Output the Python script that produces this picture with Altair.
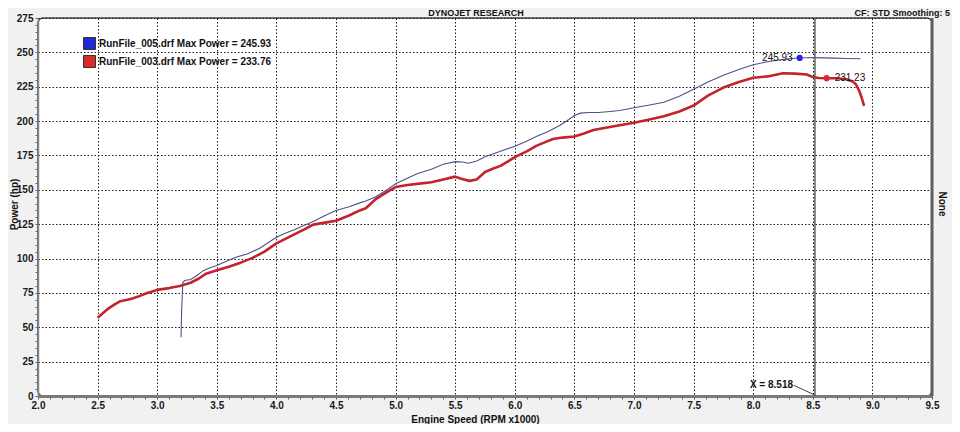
import altair as alt
import pandas as pd

# ---------------- data read from the dyno sheet ----------------
# RunFile_005 (blue, thin)
rpm_005 = [3.20, 3.205, 3.215, 3.23, 3.28, 3.33, 3.39, 3.45, 3.50, 3.58, 3.66, 3.76, 3.86, 3.93,
           4.00, 4.08, 4.15, 4.23, 4.31, 4.40, 4.50, 4.61, 4.70, 4.75, 4.83, 4.92, 5.00, 5.09,
           5.18, 5.30, 5.40, 5.50, 5.56, 5.61, 5.68, 5.76, 5.88, 6.00, 6.09, 6.18, 6.28, 6.38,
           6.45, 6.50, 6.55, 6.62, 6.70, 6.80, 6.88, 7.00, 7.12, 7.25, 7.38, 7.50, 7.62, 7.75,
           7.88, 8.00, 8.12, 8.23, 8.32, 8.39, 8.45, 8.50, 8.60, 8.68, 8.78, 8.90]
hp_005 = [42.7, 62.0, 82.5, 84.0, 84.8, 87.5, 91.4, 93.5, 95.0, 98.0, 101.0, 103.5, 107.5, 111.5,
          115.5, 118.5, 121.0, 124.0, 127.0, 131.0, 135.0, 137.7, 140.5, 141.8, 144.8, 149.5, 154.4, 158.0,
          161.7, 165.0, 168.6, 170.5, 170.2, 169.3, 171.0, 174.5, 178.0, 181.7, 185.0, 188.8, 192.5, 197.0,
          201.0, 204.0, 205.8, 206.2, 206.3, 207.0, 207.7, 209.7, 211.5, 213.7, 218.0, 223.2, 228.5, 233.4,
          237.5, 241.0, 243.2, 244.6, 245.5, 245.93, 246.1, 246.2, 246.0, 245.8, 245.5, 245.3]

# RunFile_003 (red, thick)
rpm_003 = [2.50, 2.58, 2.64, 2.69, 2.75, 2.80, 2.86, 2.91, 2.96, 3.00, 3.10, 3.19, 3.28, 3.35,
           3.41, 3.50, 3.60, 3.70, 3.80, 3.90, 4.00, 4.08, 4.15, 4.23, 4.31, 4.42, 4.50, 4.61,
           4.70, 4.75, 4.83, 4.92, 5.00, 5.10, 5.20, 5.30, 5.40, 5.50, 5.55, 5.62, 5.68, 5.75,
           5.82, 5.88, 5.95, 6.00, 6.10, 6.18, 6.25, 6.32, 6.40, 6.50, 6.58, 6.66, 6.75, 6.88,
           7.00, 7.12, 7.25, 7.38, 7.50, 7.62, 7.75, 7.88, 8.00, 8.12, 8.25, 8.35, 8.45, 8.50,
           8.55, 8.62, 8.70, 8.78, 8.83, 8.86, 8.89, 8.91, 8.93]
hp_003 = [57.0, 63.0, 66.5, 69.0, 70.0, 71.2, 73.0, 74.8, 76.0, 77.2, 78.5, 80.0, 82.4, 85.5,
          89.0, 91.5, 94.0, 97.0, 100.5, 105.0, 111.0, 114.5, 117.6, 121.0, 124.7, 126.3, 127.5, 131.3,
          135.0, 136.6, 143.0, 148.0, 152.0, 153.5, 154.5, 155.5, 157.5, 159.6, 158.0, 156.5, 157.5, 163.0,
          165.5, 167.4, 171.0, 173.8, 178.0, 182.0, 184.5, 187.0, 188.0, 188.8, 191.0, 193.5, 195.0, 197.0,
          198.8, 201.0, 203.5, 207.0, 211.3, 218.5, 224.4, 228.5, 231.5, 232.5, 234.8, 234.5, 233.9, 232.0,
          231.3, 231.2, 231.2, 230.4, 229.0, 227.0, 222.0, 217.0, 211.0]

run_005 = "RunFile_005.drf Max Power = 245.93"
run_003 = "RunFile_003.drf Max Power = 233.76"

x_ticks = [round(2.0 + 0.1 * i, 1) for i in range(76)]   # minor ticks, labels every 0.5
y_ticks = list(range(0, 280, 5))                          # minor ticks, labels every 25

cursor_rpm = [8.518]
cursor_text = ["X = 8.518"]
cursor_text_rpm = [8.334]
cursor_text_hp = [8.2]
leader_rpm = [8.34]
leader_hp = [7.8]
leader_rpm2 = [8.518]
leader_hp2 = [0.7]

marker_run = [run_005, run_003]
marker_rpm = [8.39, 8.616]
marker_hp = [245.93, 231.23]
marker_text = ["245.93", "231.23"]

header_center = "DYNOJET RESEARCH"
header_right = "CF: STD  Smoothing: 5"
x_title = "Engine Speed (RPM x1000)"
y_title = "Power (hp)"
y2_title = "None"

# ---------------- styling ----------------
FONT = "Liberation Sans"
BLUE = "#4d5189"
RED = "#c3232b"
W, H = 894, 378
major_x = "abs(datum.value * 2 - round(datum.value * 2)) < 0.001"
major_y = "datum.value % 25 == 0"

df_005 = pd.DataFrame({"rpm": rpm_005, "hp": hp_005})
df_005["i"] = range(len(df_005))
df_003 = pd.DataFrame({"rpm": rpm_003, "hp": hp_003})
df_003["i"] = range(len(df_003))

x_scale = alt.Scale(domain=[2.0, 9.5], nice=False, zero=False)
y_scale = alt.Scale(domain=[0, 275], nice=False, zero=True)

x_axis = alt.Axis(
    values=x_ticks,
    labelExpr=f"{major_x} ? format(datum.value, '.1f') : ''",
    labelFlush=False, labelOverlap=False,
    labelFont=FONT, labelFontSize=10, labelFontWeight="bold", labelColor="#1a1a1a", labelPadding=1,
    tickSize=3, tickColor="#555", tickWidth=1,
    domain=True, domainColor="#7a7a7a", domainWidth=3,
    grid=True, gridColor="#1a1a1a", gridDash=[1.5, 2], gridWidth=1,
    gridOpacity={"condition": {"test": major_x, "value": 1}, "value": 0},
    title=x_title, titleFont=FONT, titleFontSize=10, titleFontWeight="bold", titleColor="#111",
    titleX=437, titleY=26, titleAlign="center", titleBaseline="alphabetic",
)

y_axis = alt.Axis(
    orient="left", values=y_ticks,
    labelExpr=f"{major_y} ? datum.value : ''",
    labelFlush=False, labelOverlap=False,
    labelFont=FONT, labelFontSize=10, labelFontWeight="bold", labelColor="#1a1a1a", labelPadding=2,
    tickSize=3, tickColor="#666", tickWidth=1,
    domain=True, domainColor="#888", domainWidth=1.5,
    grid=True, gridColor="#1a1a1a", gridDash=[1.5, 2], gridWidth=1,
    gridOpacity={"condition": {"test": major_y, "value": 1}, "value": 0},
    title=y_title, titleFont=FONT, titleFontSize=10, titleFontWeight="bold", titleColor="#111",
    titleAngle=270, titleX=-24, titleY=186, titleAlign="center", titleBaseline="middle",
)

# identical encodings in every layer so the shared axes merge cleanly
X = alt.X("rpm:Q", scale=x_scale, axis=x_axis)
Y = alt.Y("hp:Q", scale=y_scale, axis=y_axis)

legend_def = alt.Legend(
    title=None, orient="none", legendX=45, legendY=19,
    symbolType="square", symbolSize=144, symbolStrokeWidth=1, symbolStrokeColor="#333",
    symbolOpacity=1,
    labelFont=FONT, labelFontSize=10, labelFontWeight="bold", labelColor="#111",
    labelOffset=3, labelLimit=400, rowPadding=1, padding=0,
)

red_line = alt.Chart(df_003).mark_line(strokeWidth=2.6, strokeJoin="round", color=RED).encode(
    x=X, y=Y, order="i:Q",
)
blue_line = alt.Chart(df_005).mark_line(strokeWidth=1.1, color=BLUE).encode(
    x=X, y=Y, order="i:Q",
)

cursor = alt.Chart(pd.DataFrame({"rpm": cursor_rpm})).mark_rule(color="#5f5f5f", strokeWidth=1.5).encode(
    x=X
)
leader = alt.Chart(pd.DataFrame({"rpm": leader_rpm, "hp": leader_hp, "rpm2": leader_rpm2, "hp2": leader_hp2})
                   ).mark_rule(color="#444", strokeWidth=1).encode(
    x=X, x2="rpm2:Q", y=Y, y2="hp2:Q",
)
cursor_lbl = alt.Chart(pd.DataFrame({"rpm": cursor_text_rpm, "hp": cursor_text_hp, "t": cursor_text})
                       ).mark_text(align="right", baseline="middle", font=FONT, fontSize=10,
                                   fontWeight="bold", color="#111").encode(
    x=X, y=Y, text="t:N",
)

df_m = pd.DataFrame({"run": marker_run, "rpm": marker_rpm, "hp": marker_hp, "t": marker_text})
markers = alt.Chart(df_m).mark_circle(size=38, opacity=1).encode(
    x=X, y=Y,
    color=alt.Color("run:N", scale=alt.Scale(domain=[run_005, run_003], range=["#2626d6", "#d82c2c"]),
                    legend=legend_def),
)
blue_lbl = alt.Chart(df_m.iloc[[0]]).mark_text(align="right", dx=-7, baseline="middle", font=FONT,
                                               fontSize=10, color="#111").encode(
    x=X, y=Y, text="t:N",
)
red_lbl = alt.Chart(df_m.iloc[[1]]).mark_text(align="left", dx=8, baseline="middle", font=FONT,
                                              fontSize=10, color="#111").encode(
    x=X, y=Y, text="t:N",
)

# frame decoration: thick right border of the plot
right_border = alt.Chart(pd.DataFrame({"k": [0]})).mark_rule(color="#5e5e5e", strokeWidth=3).encode(
    x=alt.value(W), y=alt.value(0), y2=alt.value(H)
)
none_lbl = alt.Chart(pd.DataFrame({"t": [y2_title]})).mark_text(
    angle=90, align="center", baseline="middle", font=FONT, fontSize=10, fontWeight="bold", color="#111"
).encode(x=alt.value(W + 10), y=alt.value(186), text="t:N")

head_c = alt.Chart(pd.DataFrame({"t": [header_center]})).mark_text(
    align="center", baseline="alphabetic", font=FONT, fontSize=9, fontWeight="bold", color="#111"
).encode(x=alt.value(438), y=alt.value(-2), text="t:N")
head_r = alt.Chart(pd.DataFrame({"t": [header_right]})).mark_text(
    align="right", baseline="alphabetic", font=FONT, fontSize=9, fontWeight="bold", color="#111"
).encode(x=alt.value(912), y=alt.value(-2), text="t:N")

chart = alt.layer(
    red_line, blue_line, cursor, leader, cursor_lbl, markers, blue_lbl, red_lbl,
    right_border, none_lbl, head_c, head_r
).properties(
    width=W, height=H,
    autosize=alt.AutoSizeParams(type="none"),
    padding={"left": 30, "top": 10, "right": 20, "bottom": 28},
    background="#f1f1f1",
).configure_view(fill="white", stroke="#444", strokeWidth=1.5, cornerRadius=5)

chart.save("out.html", embed_options={"renderer": "svg", "actions": False})
